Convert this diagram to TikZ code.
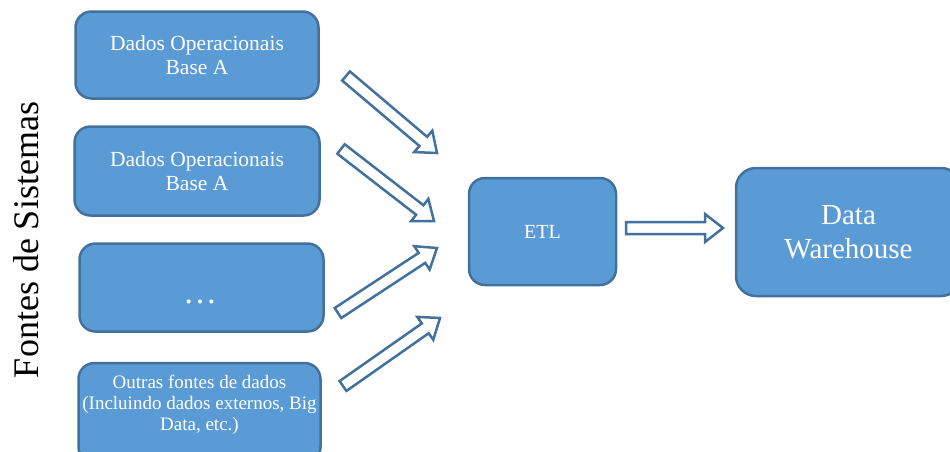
\documentclass[tikz,border=0pt]{standalone}
\usepackage{fontspec}
\setmainfont{Liberation Serif}
\usetikzlibrary{calc}
\definecolor{boxfill}{HTML}{5B9BD5}
\definecolor{boxline}{HTML}{41719C}

% hollow block arrow from #1 (tail) to #2 (tip); #3 names the head base
\newcommand\blockarrow[3]{%
  \coordinate (#3) at ($(#2)!18pt!(#1)$);
  \draw[flowarrow]
    ($(#1)!6pt!90:(#2)$) -- ($(#3)!6pt!90:(#2)$) -- ($(#3)!14pt!90:(#2)$)
    -- (#2)
    -- ($(#3)!14pt!-90:(#2)$) -- ($(#3)!6pt!-90:(#2)$) -- ($(#1)!6pt!-90:(#2)$)
    -- cycle;}

\begin{document}
\begin{tikzpicture}[x=1pt,y=-1pt,
  srcbox/.style={draw=boxline, fill=boxfill, line width=2.5pt,
    rounded corners=16pt, text=white, align=center, inner sep=0pt},
  flowarrow/.style={draw=boxline, fill=white, line width=2.5pt, line join=miter},
  labeltext/.style={text=white, align=center, inner sep=0pt}]
\clip (0,0) rectangle (950,451);

% source systems
\node[srcbox, minimum width=243pt, minimum height=87pt,
  font=\fontsize{21.5}{24}\selectfont] (src1) at (197,55)
  {Dados Operacionais\\Base A};
\node[srcbox, minimum width=245pt, minimum height=89pt,
  font=\fontsize{21.5}{24}\selectfont] (src2) at (197,171)
  {Dados Operacionais\\Base A};
\node[srcbox, minimum width=244pt, minimum height=88pt] (src3) at (201.5,287.5) {};
\node[labeltext, font=\fontsize{34}{36}\selectfont] (src3text) at (200,302) {…};
\node[srcbox, minimum width=242pt, minimum height=100pt] (src4) at (199.5,413) {};
\node[labeltext, font=\fontsize{19}{21}\selectfont] (src4text) at (199.5,405)
  {Outras fontes de dados\\(Incluindo dados externos, Big\\Data, etc.)};

% processing and target
\node[srcbox, minimum width=147pt, minimum height=107pt,
  font=\fontsize{20}{24}\selectfont] (etl) at (542.5,231.5) {ETL};
\node[srcbox, minimum width=225pt, minimum height=128pt, rounded corners=20pt,
  font=\fontsize{29}{34}\selectfont] (dw) at (848.5,232) {Data\\Warehouse};

% side caption
\node[rotate=90, inner sep=0pt, font=\fontsize{36}{40}\selectfont] (caption)
  at (26,240) {Fontes de Sistemas};

% arrow end points
\coordinate (a1tail) at (346,76);  \coordinate (a1tip) at (437,153);
\coordinate (a2tail) at (341,149); \coordinate (a2tip) at (434,221);
\coordinate (a3tail) at (338,313); \coordinate (a3tip) at (437,248);
\coordinate (a4tail) at (343,386); \coordinate (a4tip) at (440,318);
\coordinate (a5tail) at (626,228); \coordinate (a5tip) at (723,228);

\blockarrow{a1tail}{a1tip}{a1head}
\blockarrow{a2tail}{a2tip}{a2head}
\blockarrow{a3tail}{a3tip}{a3head}
\blockarrow{a4tail}{a4tip}{a4head}
\blockarrow{a5tail}{a5tip}{a5head}
\end{tikzpicture}
\end{document}
